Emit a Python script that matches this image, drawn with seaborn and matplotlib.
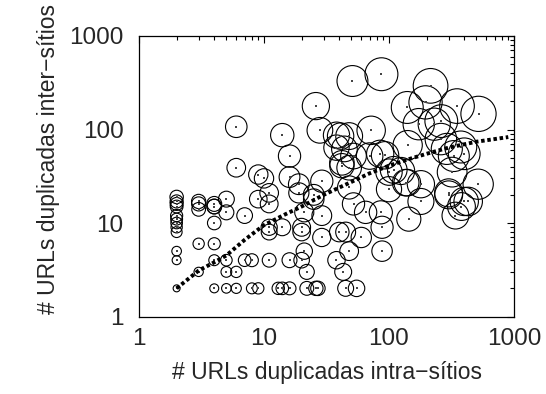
import numpy as np
import pandas as pd
import matplotlib
matplotlib.use("Agg")
import matplotlib.pyplot as plt
import seaborn as sns
from matplotlib.ticker import LogLocator, NullFormatter, FixedLocator, FixedFormatter

# intra-site duplicated URLs (x) and inter-site duplicated URLs (y)
intra = [2, 2, 2, 2, 2, 2, 2, 2, 2, 2, 2, 2,
         3, 3, 3, 3, 3,
         4, 4, 4, 4, 4, 4, 4,
         5, 5, 5, 5, 5,
         6, 6, 6, 6,
         7, 7, 8, 8,
         9, 9, 9, 10,
         11, 11, 11, 11, 11,
         13, 14, 14, 14,
         16, 16, 16, 16,
         19, 19, 20, 20, 20,
         21, 21, 22, 22,
         25, 25, 26, 26, 27,
         28, 29, 29, 29,
         38, 38, 38, 40, 41, 42, 42, 43,
         44, 45, 45,
         48, 48, 48, 48, 51,
         52, 52, 55, 60, 65,
         72, 70, 85, 87, 86, 88, 88, 93,
         100, 100, 109, 125, 136,
         140, 141, 140, 144,
         173, 180, 180, 196, 215,
         230, 262, 260, 290, 300, 300, 320, 330, 340, 375,
         350, 380, 400, 400, 430, 517, 520]
inter = [19, 17, 16, 15, 12, 11, 10, 9, 8, 5, 4, 2,
         17, 16, 14, 6, 3,
         16, 15, 15, 10, 6, 4, 2,
         18, 13, 4, 3, 2,
         107, 39, 3, 2,
         12, 4, 4, 2,
         33, 18, 2, 30,
         21, 16, 9, 8, 4,
         2, 87, 9, 2,
         52, 31, 4, 2,
         26, 21, 9, 8, 4,
         13, 5, 3, 2,
         20, 18, 178, 2, 2,
         98, 28, 12, 7,
         87, 64, 4, 8, 85, 44, 41, 3,
         62, 2, 8,
         85, 39, 24, 5, 330,
         52, 16, 2, 7, 13,
         98, 52, 55, 390, 13, 9, 5, 53,
         35, 23, 37, 36, 27,
         172, 68, 27, 11,
         114, 26, 17, 195, 293,
         114, 123, 79, 62, 21, 20, 35, 52, 12, 65,
         178, 15, 55, 17, 17, 26, 147]

# fitted trend curve
trend_x = [2, 3, 4, 5, 7, 10, 15, 20, 30, 50, 70, 100, 150, 200, 300, 500, 700, 900]
trend_y = [2.0, 3.1, 3.8, 4.5, 6.6, 9.5, 12.5, 15, 20, 27.5, 34, 41, 49, 55, 64, 74, 79, 83]

df = pd.DataFrame({"intra": intra, "inter": inter})
tr = pd.DataFrame({"x": trend_x, "y": trend_y})

sns.set_style("white")
plt.rcParams["font.family"] = ["Liberation Sans", "DejaVu Sans"]

fig = plt.figure(figsize=(5.46, 3.94), dpi=100)
ax = fig.add_axes([139 / 546, 1 - 316.5 / 394, 375 / 546, 280.5 / 394])

# circle radius (pixels) grows with log of the product
r_px = 1.5 + 3.3 * np.log10(df["intra"].to_numpy() * df["inter"].to_numpy())
s_pts = (2 * r_px * 0.72) ** 2

sns.scatterplot(data=df, x="intra", y="inter", s=s_pts, marker="o",
                facecolors="none", edgecolors="black", linewidths=0.8,
                ax=ax, legend=False)
sns.scatterplot(data=df, x="intra", y="inter", s=0.6, marker="s",
                color="#444444", linewidth=0, ax=ax, legend=False)
sns.lineplot(data=tr, x="x", y="y", ax=ax, color="black", lw=2.8,
             linestyle=(0, (0.9, 0.7)), dash_capstyle="butt")

ax.set_xscale("log")
ax.set_yscale("log")
ax.set_xlim(1, 1000)
ax.set_ylim(1, 1000)

ax.xaxis.set_major_locator(FixedLocator([1, 10, 100, 1000]))
ax.xaxis.set_major_formatter(FixedFormatter(["1", "10", "100", "1000"]))
ax.yaxis.set_major_locator(FixedLocator([1, 10, 100, 1000]))
ax.yaxis.set_major_formatter(FixedFormatter(["1", "10", "100", "1000"]))
ax.xaxis.set_minor_locator(LogLocator(base=10, subs=np.arange(2, 10)))
ax.yaxis.set_minor_locator(LogLocator(base=10, subs=np.arange(2, 10)))
ax.xaxis.set_minor_formatter(NullFormatter())
ax.yaxis.set_minor_formatter(NullFormatter())

ax.tick_params(which="both", direction="in", top=True, right=True,
               color="black", width=0.8)
ax.tick_params(which="major", length=5, labelsize=17.5)
ax.tick_params(axis="x", which="major", pad=8)
ax.tick_params(axis="y", which="major", pad=11)
ax.tick_params(which="minor", length=3)
for sp in ax.spines.values():
    sp.set_color("black")
    sp.set_linewidth(0.9)

ax.set_xlabel("# URLs duplicadas intra\u2212sítios", fontsize=16.5, labelpad=8)
ax.set_ylabel("# URLs duplicadas inter\u2212sítios", fontsize=16.5)
ax.yaxis.set_label_coords(-0.21, 0.56)

fig.savefig("out.png", dpi=100, facecolor="white")
